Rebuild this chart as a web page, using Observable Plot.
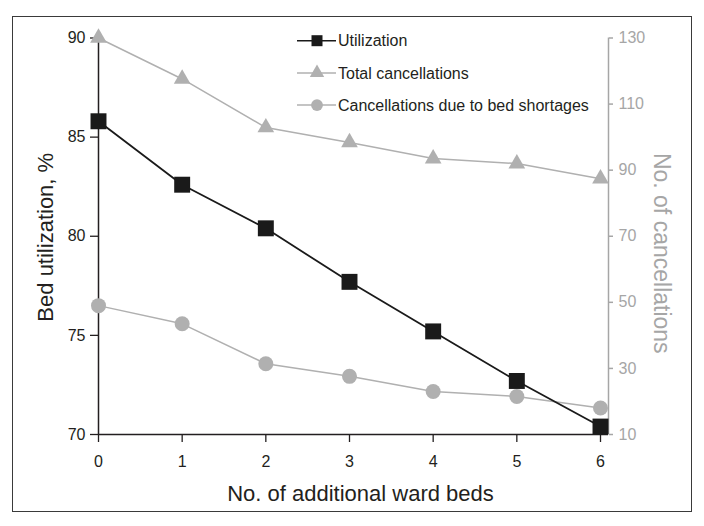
<!DOCTYPE html>
<html>
<head>
<meta charset="utf-8">
<script src="https://cdn.jsdelivr.net/npm/d3@7"></script>
<script src="https://cdn.jsdelivr.net/npm/@observablehq/plot@0.6"></script>
<style>
  html, body { margin: 0; padding: 0; background: #ffffff; }
  #wrap { position: relative; width: 704px; height: 526px; font-family: "Liberation Sans", Arial, sans-serif; }
  #frame { position: absolute; left: 12px; top: 16px; width: 678px; height: 494px; border: 1.5px solid #3a3a3a; }
  #wrap svg { position: absolute; left: 0; top: 0; overflow: visible; }
</style>
</head>
<body>
<div id="wrap"><div id="frame"></div></div>
<script>
// ---- data ----
const beds = [0, 1, 2, 3, 4, 5, 6];
const utilization = [85.8, 82.6, 80.4, 77.7, 75.2, 72.7, 70.4];
const totalCancellations = [130, 117.6, 102.9, 98.4, 93.5, 92, 87.4];
const shortageCancellations = [49, 43.5, 31.4, 27.6, 23, 21.5, 18];
const leftTicks = [70, 75, 80, 85, 90];
const rightTicks = [10, 30, 50, 70, 90, 110, 130];
const seriesNames = ["Utilization", "Total cancellations", "Cancellations due to bed shortages"];
const seriesSymbols = ["square", "triangle", "circle"];
const xTitle = "No. of additional ward beds";
const yLeftTitle = "Bed utilization, %";
const yRightTitle = "No. of cancellations";

// ---- dual-axis mapping (right scale 10..130 -> left scale 70..90) ----
const toLeft = v => 70 + (v - 10) / 6;
const fromLeft = y => Math.round(10 + (y - 70) * 6);

const rows = beds.map((b, i) => ({
  beds: b,
  util: utilization[i],
  total: toLeft(totalCancellations[i]),
  shortage: toLeft(shortageCancellations[i])
}));

const dark = "#231f20";
const grey = "#b0b0b0";
const axisGrey = "#a6a6a6";
const xMax = 6 * 510 / 502;

const chart = Plot.plot({
  width: 704,
  height: 526,
  marginLeft: 98,
  marginRight: 96,
  marginTop: 37.5,
  marginBottom: 92,
  style: { fontFamily: "'Liberation Sans', Arial, sans-serif", fontSize: "16px", color: dark, background: "transparent" },
  x: { domain: [0, xMax] },
  y: { domain: [70, 90] },
  marks: [
    Plot.axisX(beds, { tickSize: 8, tickPadding: 13, label: null, stroke: dark, strokeWidth: 1.3, fill: dark, fontSize: 16 }),
    Plot.axisY(leftTicks, { tickSize: 8, tickPadding: 5, label: null, stroke: dark, strokeWidth: 1.3, fill: dark, fontSize: 16 }),
    Plot.axisY(rightTicks.map(toLeft), { anchor: "right", tickSize: 4, tickPadding: 6, tickFormat: fromLeft, label: null, stroke: axisGrey, strokeWidth: 1.5, fill: axisGrey, fontSize: 16 }),
    Plot.ruleX([xMax], { stroke: axisGrey, strokeWidth: 1.5 }),
    Plot.ruleY([70], { stroke: dark, strokeWidth: 1.5 }),
    Plot.ruleX([0], { stroke: dark, strokeWidth: 1.5 }),
    Plot.line(rows, { x: "beds", y: "total", stroke: grey, strokeWidth: 1.5 }),
    Plot.dot(rows, { x: "beds", y: "total", symbol: "triangle", r: 6.2, fill: grey }),
    Plot.line(rows, { x: "beds", y: "shortage", stroke: grey, strokeWidth: 1.5 }),
    Plot.dot(rows, { x: "beds", y: "shortage", symbol: "circle", r: 7.5, fill: grey }),
    Plot.line(rows, { x: "beds", y: "util", stroke: "#1a1a1a", strokeWidth: 1.8 }),
    Plot.dot(rows, { x: "beds", y: "util", symbol: "square", r: 9, fill: "#1a1a1a" }),
    Plot.text([xTitle], { text: d => d, frameAnchor: "bottom", dy: 51, dx: 7, lineAnchor: "top", textAnchor: "middle", fontSize: 22, fill: dark }),
    Plot.text([yLeftTitle], { text: d => d, frameAnchor: "left", rotate: -90, dx: -53, dy: 1, textAnchor: "middle", fontSize: 22, fill: dark }),
    Plot.text([yRightTitle], { text: d => d, frameAnchor: "right", rotate: 90, dx: 53, dy: 17, textAnchor: "middle", fontSize: 23, fill: axisGrey })
  ]
});
document.getElementById("wrap").appendChild(chart);

// ---- legend ----
const legend = d3.select("#wrap").append("svg")
  .attr("width", 704).attr("height", 526);
const symbolTypes = { square: d3.symbolSquare, triangle: d3.symbolTriangle, circle: d3.symbolCircle };
const symbolSizes = { square: 121, triangle: 90, circle: 110 };
const items = legend.selectAll("g").data(seriesNames).join("g")
  .attr("transform", (d, i) => `translate(297,${40.7 + i * 32.2})`);
items.append("line")
  .attr("x1", 0).attr("x2", 39).attr("y1", 0).attr("y2", 0)
  .attr("stroke", (d, i) => i === 0 ? "#1a1a1a" : grey)
  .attr("stroke-width", 1.5);
items.append("path")
  .attr("transform", "translate(20,0)")
  .attr("d", (d, i) => d3.symbol(symbolTypes[seriesSymbols[i]], symbolSizes[seriesSymbols[i]])())
  .attr("fill", (d, i) => i === 0 ? "#1a1a1a" : grey);
items.append("text")
  .attr("x", 41).attr("y", 0).attr("dy", "0.35em")
  .attr("font-family", "'Liberation Sans', Arial, sans-serif")
  .attr("font-size", 16)
  .attr("fill", dark)
  .text(d => d);
</script>
</body>
</html>
